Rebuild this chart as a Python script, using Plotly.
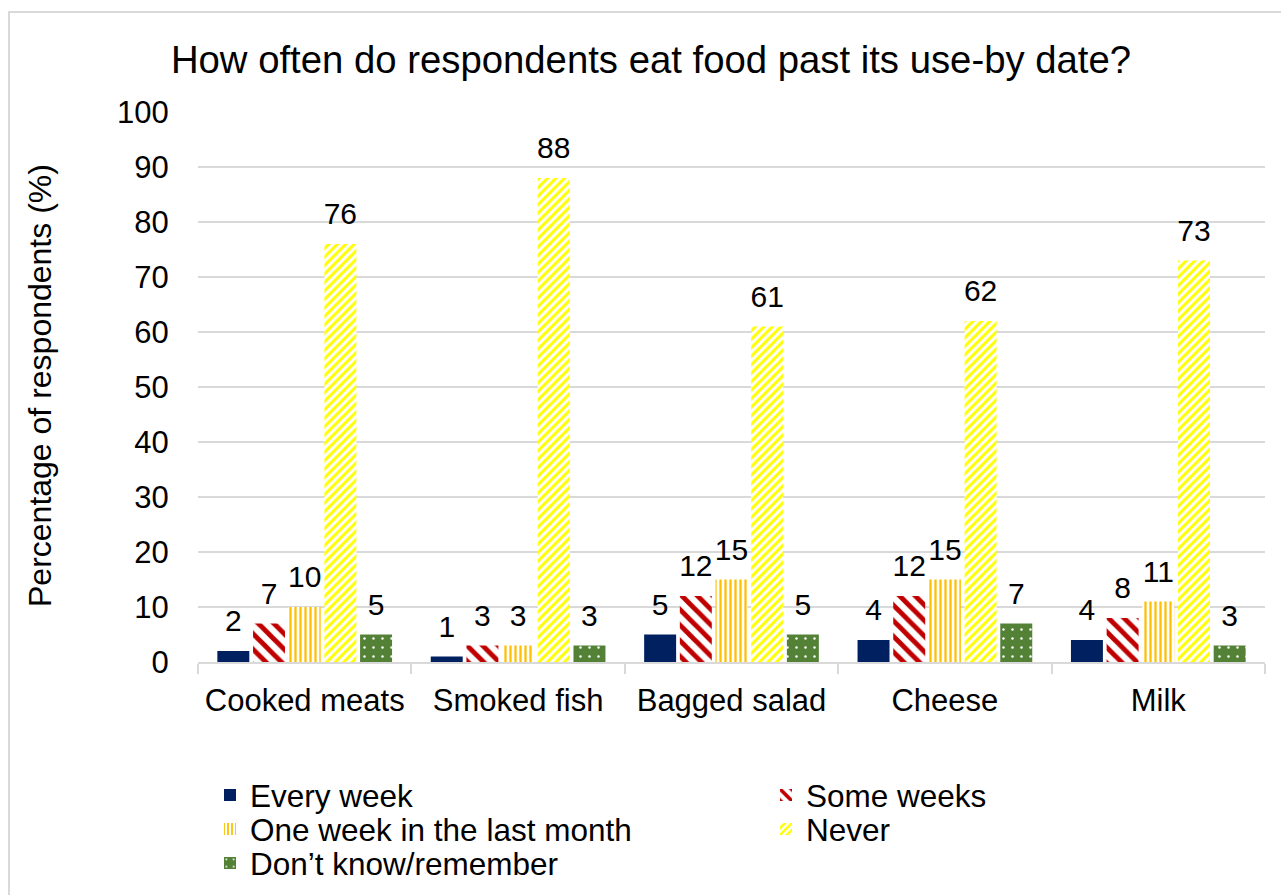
import plotly.graph_objects as go

# Survey results: share of respondents (%) by food type and frequency
foods = ["Cooked meats", "Smoked fish", "Bagged salad", "Cheese", "Milk"]

every_week = [2, 1, 5, 4, 4]
some_weeks = [7, 3, 12, 12, 8]
one_week_last_month = [10, 3, 15, 15, 11]
never = [76, 88, 61, 62, 73]
dont_know = [5, 3, 5, 7, 3]

series_names = [
    "Every week",
    "Some weeks",
    "One week in the last month",
    "Never",
    "Don\u2019t know/remember",
]
series_values = [every_week, some_weeks, one_week_last_month, never, dont_know]

FONT = "Arial, 'Liberation Sans', sans-serif"
GRID = "#d9d9d9"

# Fill styles per series (solid, hatched, striped, dotted)
styles = [
    dict(color="#002060", pattern=dict(shape="")),
    dict(color="white", pattern=dict(shape="\\", fgcolor="#C00000", bgcolor="white",
                                     size=11, solidity=0.45, fillmode="replace")),
    dict(color="white", pattern=dict(shape="|", fgcolor="#FFC000", bgcolor="white",
                                     size=5, solidity=0.45, fillmode="replace")),
    dict(color="white", pattern=dict(shape="/", fgcolor="#FFFF00", bgcolor="white",
                                     size=6, solidity=0.5, fillmode="replace")),
    dict(color="#538135", pattern=dict(shape=".", fgcolor="white", bgcolor="#538135",
                                       size=9, solidity=0.06, fillmode="replace")),
]

# One legend box per series, laid out as a two-column key below the axis
legend_ids = ["legend", "legend2", "legend3", "legend4", "legend5"]

fig = go.Figure()

for name, vals, st, lg in zip(series_names, series_values, styles, legend_ids):
    fig.add_trace(go.Bar(
        name=name,
        x=foods,
        y=vals,
        marker=dict(color=st["color"], pattern=st["pattern"], line=dict(width=0)),
        legend=lg,
        hoverinfo="skip",
    ))

# Value labels, grouped alongside the bars
for name, vals in zip(series_names, series_values):
    fig.add_trace(go.Scatter(
        x=foods,
        y=vals,
        mode="markers+text",
        text=[str(v) for v in vals],
        textposition="top center",
        textfont=dict(family=FONT, size=30, color="black"),
        marker=dict(size=18, opacity=0),
        showlegend=False,
        cliponaxis=False,
        hoverinfo="skip",
    ))

PLOT_L, PLOT_R, PLOT_T, PLOT_B = 198, 16, 112, 233
W, H = 1281, 895
pw = W - PLOT_L - PLOT_R
ph = H - PLOT_T - PLOT_B


def px_x(x):
    return (x - PLOT_L) / pw


def px_y(y):
    return (H - PLOT_B - y) / ph


legend_common = dict(
    orientation="h",
    font=dict(family=FONT, size=31.5, color="black"),
    bgcolor="rgba(0,0,0,0)",
    borderwidth=0,
    xanchor="left",
    yanchor="middle",
    itemclick=False,
    itemdoubleclick=False,
)
col_x = [210, 766]
row_y = [795, 829, 863]
legend_pos = [(0, 0), (1, 0), (0, 1), (1, 1), (0, 2)]
legends = {
    lg: dict(legend_common, x=px_x(col_x[c]), y=px_y(row_y[r]))
    for lg, (c, r) in zip(legend_ids, legend_pos)
}

fig.update_layout(
    width=W,
    height=H,
    margin=dict(l=PLOT_L, r=PLOT_R, t=PLOT_T, b=PLOT_B, autoexpand=False),
    paper_bgcolor="white",
    plot_bgcolor="white",
    font=dict(family=FONT, size=31, color="black"),
    barmode="group",
    bargap=0.164,
    bargroupgap=0.104,
    scattermode="group",
    scattergap=0.164,
    title=dict(
        text="How often do respondents eat food past its use-by date?",
        font=dict(family=FONT, size=38.3, color="black"),
        x=651 / W,
        xanchor="center",
        y=1 - 60 / H,
        yanchor="middle",
    ),
    xaxis=dict(
        type="category",
        showgrid=False,
        showline=True,
        linecolor=GRID,
        linewidth=2,
        ticks="outside",
        tickson="boundaries",
        ticklen=10,
        tickwidth=2,
        tickcolor=GRID,
        ticklabelstandoff=10,
        tickfont=dict(family=FONT, size=31, color="black"),
    ),
    yaxis=dict(
        range=[0, 100],
        dtick=10,
        showgrid=True,
        gridcolor=GRID,
        gridwidth=2,
        zeroline=False,
        showline=False,
        ticks="outside",
        ticklen=22,
        tickcolor="rgba(0,0,0,0)",
        tickfont=dict(family=FONT, size=31, color="black"),
    ),
    annotations=[
        dict(
            text="Percentage of respondents (%)",
            textangle=-90,
            xref="paper", yref="paper",
            x=px_x(40), y=px_y(386),
            xanchor="center", yanchor="middle",
            showarrow=False,
            font=dict(family=FONT, size=32, color="black"),
        )
    ],
    shapes=[
        dict(
            type="rect",
            xref="paper", yref="paper",
            x0=px_x(9), x1=px_x(1300),
            y0=px_y(910), y1=px_y(12),
            line=dict(color=GRID, width=2),
            fillcolor="rgba(0,0,0,0)",
            layer="below",
        )
    ],
    **legends,
)

fig.write_html("out.html")
